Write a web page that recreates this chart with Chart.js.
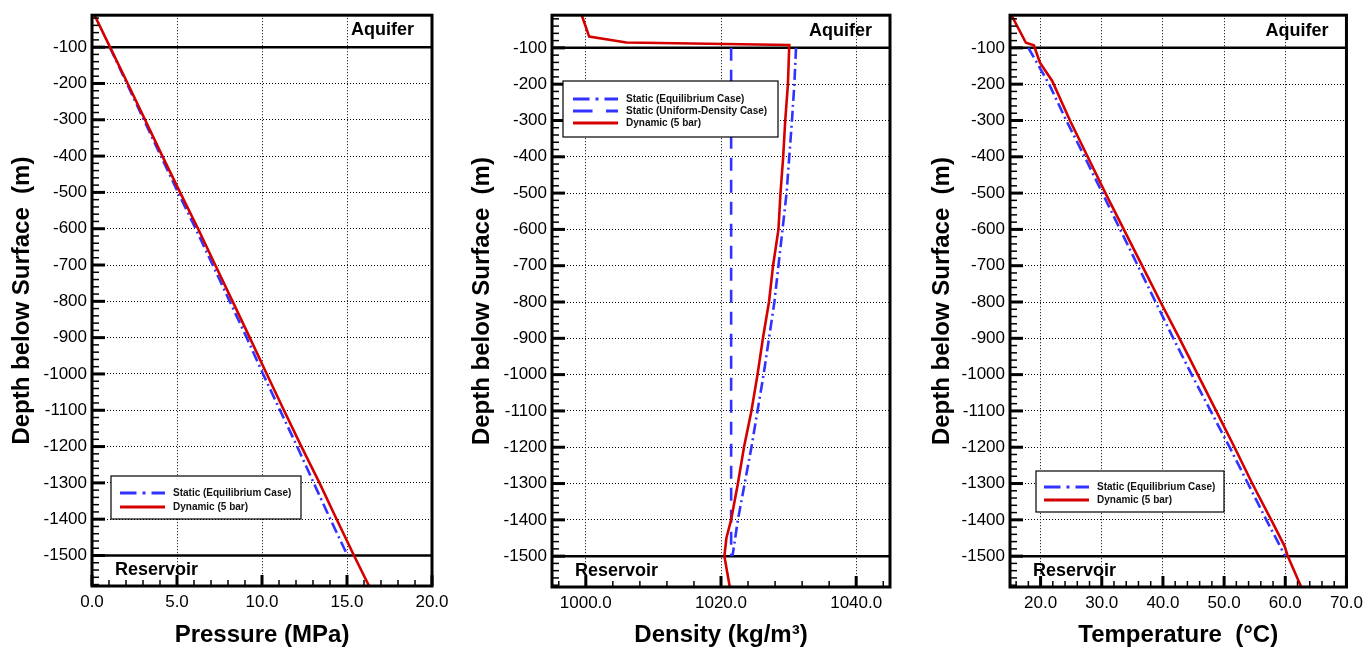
<!DOCTYPE html>
<html>
<head>
<meta charset="utf-8">
<script src="https://cdn.jsdelivr.net/npm/chart.js@4.4.0/dist/chart.umd.min.js"></script>
<style>
  html, body { margin: 0; padding: 0; background: #fff; }
  #wrap { position: relative; width: 1369px; height: 656px; }
  canvas { position: absolute; top: 0; }
</style>
</head>
<body>
<div id="wrap">
  <canvas id="pressureChart" width="460" height="656" style="left:0"></canvas>
  <canvas id="densityChart" width="460" height="656" style="left:460px"></canvas>
  <canvas id="tempChart" width="449" height="656" style="left:920px"></canvas>
</div>
<script>
// Depth axis (m below surface, negative downwards)
const depthTicks = [-100, -200, -300, -400, -500, -600, -700, -800, -900, -1000, -1100, -1200, -1300, -1400, -1500];
const zoneDepths = [-100, -1500];
const zoneNames = ['Aquifer', 'Reservoir'];

// Pressure (MPa)
const pressureTicks = [0, 5, 10, 15, 20];
const pressureDepthDyn = [-12, -100, -200, -300, -400, -500, -600, -700, -800, -900, -1000, -1100, -1200, -1300, -1400, -1500, -1584];
const pressureDyn = [0.15, 1.06, 2.1, 3.12, 4.14, 5.18, 6.24, 7.25, 8.27, 9.28, 10.28, 11.29, 12.32, 13.38, 14.39, 15.41, 16.3];
const pressureDepthStatic = [-100, -200, -300, -400, -500, -600, -700, -800, -900, -1000, -1100, -1200, -1300, -1400, -1500];
const pressureStatic = [1.05, 2.05, 3.05, 4.05, 5.06, 6.1, 7.1, 8.1, 9.1, 10.06, 11.06, 12.07, 13.04, 14.02, 15.03];

// Density (kg/m3)
const densityTicks = [1000, 1020, 1040];
const densityDepthDyn = [-10, -69, -85, -92, -200, -300, -400, -500, -600, -700, -800, -900, -1000, -1100, -1200, -1300, -1400, -1450, -1500, -1585];
const densityDyn = [999.4, 1000.5, 1006.0, 1030.1, 1029.9, 1029.5, 1029.2, 1028.8, 1028.5, 1027.7, 1027.1, 1026.2, 1025.4, 1024.5, 1023.4, 1022.5, 1021.5, 1020.8, 1020.5, 1021.3];
const densityDepthStatic = [-100, -200, -300, -400, -500, -600, -700, -800, -900, -1000, -1100, -1200, -1300, -1400, -1500];
const densityStatic = [1031.1, 1030.85, 1030.5, 1030.1, 1029.7, 1029.1, 1028.5, 1027.9, 1027.1, 1026.3, 1025.4, 1024.5, 1023.5, 1022.5, 1021.7];
const densityDepthUniform = [-100, -1500];
const densityUniform = [1021.5, 1021.5];

// Temperature (C)
const tempTicks = [20, 30, 40, 50, 60, 70];
const tempDepthDyn = [-12, -86, -93, -141, -191, -300, -400, -500, -600, -700, -800, -900, -1000, -1100, -1200, -1300, -1400, -1473, -1500, -1585];
const tempDyn = [15.3, 17.6, 18.9, 19.9, 21.9, 24.8, 27.7, 30.6, 33.6, 36.6, 39.6, 42.7, 45.7, 48.7, 51.7, 54.6, 57.7, 59.9, 60.4, 62.6];
const tempDepthStatic = [-100, -200, -300, -400, -500, -600, -700, -800, -900, -1000, -1100, -1200, -1300, -1400, -1500];
const tempStatic = [18.0, 21.4, 24.2, 27.2, 30.1, 33.0, 35.9, 38.8, 41.7, 44.7, 47.8, 50.9, 53.9, 56.9, 60.0];

const FONT = '"Liberation Sans", Arial, Helvetica, sans-serif';
Chart.defaults.font.family = FONT;
Chart.defaults.color = '#000';

const BLUE = '#3333ff';
const RED = '#d40000';
const EQ_DASH = [11, 4, 2, 4];
const UNIFORM_DASH = [13, 9];

function pts(xs, ys) {
    return xs.map((v, i) => ({ x: v, y: ys[i] }));
}

function line(label, xs, ys, color, dash, order) {
    return {
        label: label,
        data: pts(xs, ys),
        showLine: true,
        fill: false,
        borderColor: color,
        borderWidth: 2.6,
        borderDash: dash,
        pointRadius: 0,
        tension: 0,
        order: order
    };
}

// frame, zone lines, inward ticks and the boxed legend
const wellFrame = {
    id: 'wellFrame',
    beforeDatasetsDraw(chart) {
        const { ctx, chartArea: a, scales: { y } } = chart;
        ctx.save();
        ctx.strokeStyle = '#000';
        ctx.lineWidth = 2.5;
        zoneDepths.forEach(d => {
            const py = y.getPixelForValue(d);
            ctx.beginPath();
            ctx.moveTo(a.left, py);
            ctx.lineTo(a.right, py);
            ctx.stroke();
        });
        const top = y.getPixelForValue(zoneDepths[0]);
        const bottom = y.getPixelForValue(zoneDepths[1]);
        ctx.fillStyle = '#000';
        ctx.font = 'bold 18px ' + FONT;
        ctx.textBaseline = 'middle';
        ctx.textAlign = 'right';
        ctx.fillText(zoneNames[0], a.right - 18, (a.top + top) / 2 - 1);
        ctx.textAlign = 'left';
        ctx.fillText(zoneNames[1], a.left + 23, (bottom + a.bottom) / 2 - 1);
        ctx.restore();
    },
    afterDraw(chart, args, opts) {
        const { ctx, chartArea: a, scales: { x, y } } = chart;
        ctx.save();
        ctx.strokeStyle = '#000';

        // depth ticks: long every 100 m, short every 20 m
        for (let d = -20; d >= y.min; d -= 20) {
            if (d > y.max) continue;
            const major = d % 100 === 0;
            const py = y.getPixelForValue(d);
            ctx.lineWidth = major ? 3 : 1.5;
            ctx.beginPath();
            ctx.moveTo(a.left, py);
            ctx.lineTo(a.left + (major ? 13 : 7), py);
            ctx.stroke();
        }

        // ticks along the bottom
        const step = opts.minorStep;
        for (let v = Math.ceil(x.min / step) * step; v <= x.max + 1e-9; v += step) {
            const major = x.ticks.some(t => Math.abs(t.value - v) < 1e-6);
            const px = x.getPixelForValue(v);
            ctx.lineWidth = major ? 3 : 1.5;
            ctx.beginPath();
            ctx.moveTo(px, a.bottom);
            ctx.lineTo(px, a.bottom - (major ? 11 : 6));
            ctx.stroke();
        }

        ctx.lineWidth = 3;
        ctx.strokeRect(a.left, a.top, a.right - a.left, a.bottom - a.top);

        // legend
        const lg = opts.legend;
        ctx.fillStyle = '#fff';
        ctx.fillRect(lg.left, lg.top, lg.width, lg.height);
        ctx.lineWidth = 1.2;
        ctx.strokeStyle = '#000';
        ctx.strokeRect(lg.left, lg.top, lg.width, lg.height);
        ctx.font = 'bold 10px ' + FONT;
        ctx.textAlign = 'left';
        ctx.textBaseline = 'middle';
        chart.data.datasets.forEach((ds, i) => {
            const ry = lg.top + lg.firstRow + i * lg.rowGap;
            ctx.strokeStyle = ds.borderColor;
            ctx.lineWidth = 3;
            ctx.setLineDash((ds.borderDash || []).map(v => v * 1.5));
            ctx.beginPath();
            ctx.moveTo(lg.left + lg.sampleX, ry);
            ctx.lineTo(lg.left + lg.sampleX + 45, ry);
            ctx.stroke();
            ctx.setLineDash([]);
            ctx.fillStyle = '#111';
            ctx.fillText(ds.label, lg.left + lg.textX, ry);
        });
        ctx.restore();
    }
};

function makeChart(id, cfg) {
    const axisFont = { size: 17 };
    const titleFont = { size: 24, weight: 'bold' };
    return new Chart(document.getElementById(id), {
        type: 'scatter',
        data: { datasets: cfg.datasets },
        options: {
            responsive: false,
            animation: false,
            layout: { padding: { top: cfg.top, right: cfg.right, left: 0, bottom: 0 } },
            scales: {
                x: {
                    type: 'linear',
                    min: cfg.xMin,
                    max: cfg.xMax,
                    afterBuildTicks: s => { s.ticks = cfg.xTicks.map(v => ({ value: v })); },
                    afterFit: s => { s.height = 656 - cfg.bottom; },
                    ticks: { padding: 6, font: axisFont, color: '#000', maxRotation: 0, autoSkip: false,
                             callback: v => v.toFixed(1) },
                    grid: { color: '#000', lineWidth: 1, drawTicks: false },
                    border: { display: false, dash: [1, 2] },
                    title: { display: true, text: cfg.xTitle, font: titleFont, color: '#000', padding: { bottom: 6 } }
                },
                y: {
                    type: 'linear',
                    min: cfg.yMin,
                    max: cfg.yMax,
                    afterBuildTicks: s => { s.ticks = depthTicks.map(v => ({ value: v })); },
                    afterFit: s => { s.width = cfg.left; },
                    ticks: { padding: 5, font: axisFont, color: '#000', autoSkip: false,
                             callback: v => String(v) },
                    grid: { color: '#000', lineWidth: 1, drawTicks: false },
                    border: { display: false, dash: [1, 2] },
                    title: { display: true, text: 'Depth below Surface  (m)', font: titleFont, color: '#000', padding: { top: 8 } }
                }
            },
            plugins: {
                legend: { display: false },
                tooltip: { enabled: false },
                wellFrame: { minorStep: cfg.minorStep, legend: cfg.legend }
            }
        },
        plugins: [wellFrame]
    });
}

makeChart('pressureChart', {
    top: 10, right: 28, left: 92, bottom: 586,
    xMin: 0, xMax: 20, xTicks: pressureTicks, minorStep: 1,
    yMin: -1584, yMax: -12,
    xTitle: 'Pressure (MPa)',
    legend: { left: 111, top: 476, width: 190, height: 43, firstRow: 17, rowGap: 14, sampleX: 9, textX: 62 },
    datasets: [
        line('Static (Equilibrium Case)', pressureStatic, pressureDepthStatic, BLUE, EQ_DASH, 1),
        line('Dynamic (5 bar)', pressureDyn, pressureDepthDyn, RED, [], 0)
    ]
});

makeChart('densityChart', {
    top: 14, right: 30, left: 92, bottom: 587,
    xMin: 995, xMax: 1045, xTicks: densityTicks, minorStep: 4,
    yMin: -1585, yMax: -10,
    xTitle: 'Density (kg/m³)',
    legend: { left: 103, top: 81, width: 215, height: 56, firstRow: 18, rowGap: 12, sampleX: 10, textX: 63 },
    datasets: [
        line('Static (Equilibrium Case)', densityStatic, densityDepthStatic, BLUE, EQ_DASH, 2),
        line('Static (Uniform-Density Case)', densityUniform, densityDepthUniform, BLUE, UNIFORM_DASH, 1),
        line('Dynamic (5 bar)', densityDyn, densityDepthDyn, RED, [], 0)
    ]
});

makeChart('tempChart', {
    top: 14, right: 21, left: 90, bottom: 587,
    xMin: 15, xMax: 70, xTicks: tempTicks, minorStep: 2,
    yMin: -1585, yMax: -10,
    xTitle: 'Temperature  (°C)',
    legend: { left: 116, top: 471, width: 188, height: 41, firstRow: 16, rowGap: 13, sampleX: 8, textX: 61 },
    datasets: [
        line('Static (Equilibrium Case)', tempStatic, tempDepthStatic, BLUE, EQ_DASH, 1),
        line('Dynamic (5 bar)', tempDyn, tempDepthDyn, RED, [], 0)
    ]
});
</script>
</body>
</html>
